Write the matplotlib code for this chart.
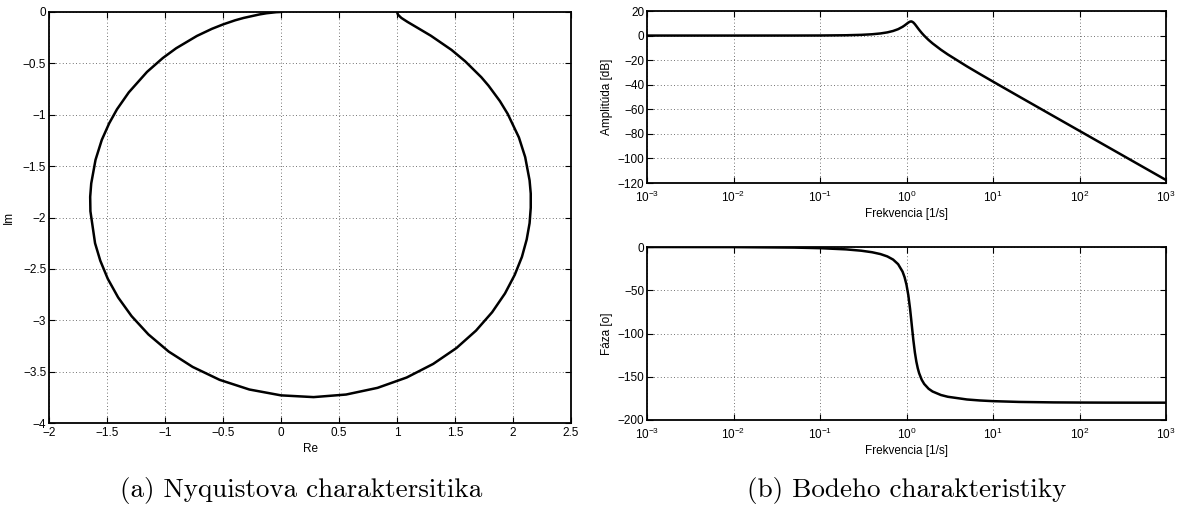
import math
import matplotlib
matplotlib.use("Agg")
import matplotlib.pyplot as plt
from matplotlib.ticker import FixedLocator, FuncFormatter

# ---- Data ----
# Nyquist curve (Re, Im) points
nyq_re = [1.0, 1.009, 1.038, 1.090, 1.171, 1.292, 1.470, 1.587, 1.727, 1.789, 1.887, 1.954,
          2.051, 2.105, 2.143, 2.153, 2.153, 2.143, 2.118, 2.077, 2.015, 1.931, 1.820,
          1.681, 1.512, 1.312, 1.084, 0.832, 0.561, 0.281, 0.0, -0.273, -0.529, -0.762,
          -0.968, -1.143, -1.288, -1.404, -1.493, -1.558, -1.603, -1.643, -1.645, -1.636,
          -1.599, -1.545, -1.481, -1.414, -1.312, -1.155, -1.019, -0.904, -0.725, -0.596,
          -0.500, -0.396, -0.323, -0.187, -0.124, -0.042, -0.010, 0.0]
nyq_im = [0.0, -0.027, -0.058, -0.096, -0.150, -0.231, -0.369, -0.479, -0.635, -0.717,
          -0.867, -0.991, -1.221, -1.412, -1.639, -1.767, -1.906, -2.055, -2.214, -2.383,
          -2.558, -2.739, -2.922, -3.101, -3.271, -3.425, -3.557, -3.658, -3.723, -3.748,
          -3.731, -3.674, -3.580, -3.454, -3.305, -3.138, -2.960, -2.778, -2.597, -2.420,
          -2.250, -1.939, -1.799, -1.669, -1.439, -1.245, -1.083, -0.947, -0.782, -0.583,
          -0.448, -0.353, -0.233, -0.164, -0.121, -0.081, -0.058, -0.024, -0.012, -0.002,
          -0.0003, 0.0]

# Bode plots
freq = [0.001, 0.01, 0.05, 0.1, 0.2, 0.3, 0.4, 0.5, 0.6, 0.7, 0.8, 0.9, 0.95, 1.0, 1.05,
        1.1, 1.13, 1.15, 1.2, 1.25, 1.3, 1.35, 1.4, 1.5, 1.6, 1.8, 2.0, 2.5, 3.0, 5.0,
        7.0, 10.0, 20.0, 50.0, 100.0, 200.0, 500.0, 1000.0]
mag_db = [0.0, 0.0, 0.02, 0.06, 0.26, 0.59, 1.07, 1.73, 2.60, 3.74, 5.21, 7.12, 8.24,
          9.44, 10.58, 11.37, 11.52, 11.44, 10.65, 9.29, 7.72, 6.16, 4.70, 2.12, -0.06,
          -3.58, -6.35, -11.53, -15.34, -25.08, -31.15, -37.46, -49.59, -65.53, -77.57,
          -89.61, -105.53, -117.57]
phase_deg = [-0.01, -0.13, -0.67, -1.35, -2.75, -4.29, -6.05, -8.18, -10.88, -14.53,
             -19.86, -28.42, -34.89, -43.70, -55.79, -71.64, -82.54, -90.0, -107.63,
             -121.92, -132.53, -140.23, -145.91, -153.50, -158.28, -163.86, -167.04,
             -171.11, -173.13, -176.28, -177.41, -178.21, -179.11, -179.65, -179.82,
             -179.91, -179.96, -179.98]

nyq_xticks = [-2, -1.5, -1, -0.5, 0, 0.5, 1, 1.5, 2, 2.5]
nyq_yticks = [0, -0.5, -1, -1.5, -2, -2.5, -3, -3.5, -4]
mag_yticks = [20, 0, -20, -40, -60, -80, -100, -120]
ph_yticks = [0, -50, -100, -150, -200]
log_xticks = [1e-3, 1e-2, 1e-1, 1e0, 1e1, 1e2, 1e3]

caption_a = "(a) Nyquistova charaktersitika"
caption_b = "(b) Bodeho charakteristiky"

plt.rcParams['font.family'] = ['Liberation Sans', 'DejaVu Sans']
plt.rcParams['mathtext.fontset'] = 'custom'
plt.rcParams['mathtext.rm'] = 'Liberation Sans'
plt.rcParams['mathtext.it'] = 'Liberation Sans'
plt.rcParams['axes.unicode_minus'] = True

W, H = 1183, 528
fig = plt.figure(figsize=(W / 100, H / 100), dpi=100)

def box(x0, y0, x1, y1):
    return [x0 / W, 1 - y1 / H, (x1 - x0) / W, (y1 - y0) / H]

ax_n = fig.add_axes(box(49, 12, 571, 423))
ax_m = fig.add_axes(box(647, 11, 1166, 183))
ax_p = fig.add_axes(box(647, 247, 1166, 420))

TICK_FS = 8.5

def style(ax, xpad=2):
    for s in ax.spines.values():
        s.set_linewidth(1.3)
        s.set_color('black')
    ax.tick_params(direction='in', top=True, right=True, length=4, width=0.8,
                   labelsize=TICK_FS, pad=2, colors='black')
    ax.tick_params(axis='x', pad=xpad)
    ax.grid(True, linestyle=(0, (1, 3)), color='#444444', linewidth=0.6)
    ax.set_axisbelow(True)

def fmt(v, pos):
    return ('%g' % v).replace('-', '\u2212')

# Nyquist
ax_n.plot(nyq_re, nyq_im, color='black', linewidth=1.8)
ax_n.set_xlim(-2, 2.5)
ax_n.set_ylim(-4, 0)
ax_n.xaxis.set_major_locator(FixedLocator(nyq_xticks))
ax_n.yaxis.set_major_locator(FixedLocator(nyq_yticks))
ax_n.xaxis.set_major_formatter(FuncFormatter(fmt))
ax_n.yaxis.set_major_formatter(FuncFormatter(fmt))
style(ax_n, xpad=3)
ax_n.set_xlabel('Re', fontsize=TICK_FS, labelpad=3)
ax_n.set_ylabel('Im', fontsize=TICK_FS, labelpad=6)

# Magnitude
ax_m.semilogx(freq, mag_db, color='black', linewidth=1.8)
ax_m.set_xlim(1e-3, 1e3)
ax_m.set_ylim(-120, 20)
ax_m.yaxis.set_major_locator(FixedLocator(mag_yticks))
ax_m.yaxis.set_major_formatter(FuncFormatter(fmt))
ax_m.set_ylabel('Amplitúda [dB]', fontsize=TICK_FS, labelpad=3)
ax_m.set_xlabel('Frekvencia [1/s]', fontsize=TICK_FS, labelpad=2)

# Phase
ax_p.semilogx(freq, phase_deg, color='black', linewidth=1.8)
ax_p.set_xlim(1e-3, 1e3)
ax_p.set_ylim(-200, 0)
ax_p.yaxis.set_major_locator(FixedLocator(ph_yticks))
ax_p.yaxis.set_major_formatter(FuncFormatter(fmt))
ax_p.set_ylabel('Fáza [o]', fontsize=TICK_FS, labelpad=3)
ax_p.set_xlabel('Frekvencia [1/s]', fontsize=TICK_FS, labelpad=2)

for ax in (ax_m, ax_p):
    ax.xaxis.set_major_locator(FixedLocator(log_xticks))
    ax.xaxis.set_minor_locator(FixedLocator([]))
    ax.xaxis.set_major_formatter(FuncFormatter(
        lambda v, p: r'$10^{%d}$' % round(math.log10(v))))
    style(ax, xpad=5)

fig.text(301 / W, 1 - 490 / H, caption_a, family='cmr10', fontsize=19.5,
         ha='center', va='center')
fig.text(907 / W, 1 - 490 / H, caption_b, family='cmr10', fontsize=19.5,
         ha='center', va='center')

fig.savefig('out.png', dpi=100)
